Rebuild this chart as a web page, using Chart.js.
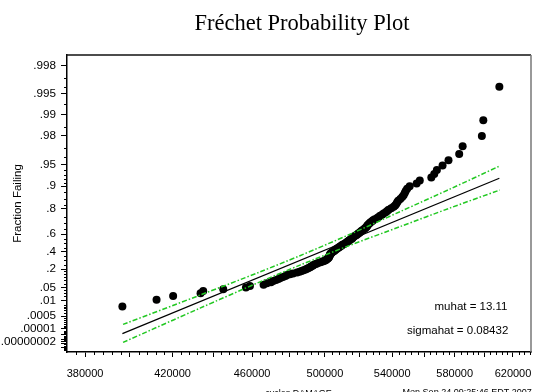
<!DOCTYPE html>
<html>
<head>
<meta charset="utf-8">
<title>Fréchet Probability Plot</title>
<script src="https://cdn.jsdelivr.net/npm/chart.js@4.4.1/dist/chart.umd.min.js"></script>
<style>
  html, body { margin: 0; padding: 0; background: #fff; }
  #wrap { width: 536px; height: 392px; }
</style>
</head>
<body>
<div id="wrap"><canvas id="plot" width="536" height="392"></canvas></div>
<script>
'use strict';

// fitted parameters on the log scale
const muhat = 13.11;
const sigmahat = 0.08432;

// ordered sample
const damage = [
  396600, 412400, 420300, 433700, 435000, 445100, 456800, 458900, 466100, 467900,
  470100, 471300, 472800, 474100, 475200, 476600, 477900, 478800, 480400, 482100,
  484300, 485700, 486800, 487900, 489000, 489900, 490700, 491600, 492100, 493000,
  493500, 494400, 495200, 496100, 497500, 498600, 499500, 500400, 500900, 501500,
  501800, 502100, 502400, 502500, 502700, 502900, 503000, 503200, 503800, 504100,
  504700, 505300, 505800, 506100, 506700, 507300, 507900, 508400, 509000, 509600,
  510200, 510800, 511700, 512300, 512800, 513400, 514000, 514600, 515200, 515800,
  516100, 516700, 517300, 518200, 518700, 519300, 519900, 520500, 521100, 521700,
  522600, 523200, 523800, 524400, 524700, 525000, 525600, 526200, 526800, 527700,
  528300, 529300, 530800, 531700, 532600, 533800, 534700, 536000, 536900, 537800,
  539400, 540900, 541800, 542500, 543100, 543700, 545000, 546200, 547100, 547800,
  548400, 549300, 550900, 555300, 557300, 564700, 566600, 568300, 572000, 575900,
  583000, 585300, 598300, 599300, 610400,
];

const fractionFailing = [
  0.004, 0.012, 0.020, 0.028, 0.036, 0.044, 0.052, 0.060, 0.068, 0.076,
  0.084, 0.092, 0.100, 0.108, 0.116, 0.124, 0.132, 0.140, 0.148, 0.156,
  0.164, 0.172, 0.180, 0.188, 0.196, 0.204, 0.212, 0.220, 0.228, 0.236,
  0.244, 0.252, 0.260, 0.268, 0.276, 0.284, 0.292, 0.300, 0.308, 0.316,
  0.324, 0.332, 0.340, 0.348, 0.356, 0.364, 0.372, 0.380, 0.388, 0.396,
  0.404, 0.412, 0.420, 0.428, 0.436, 0.444, 0.452, 0.460, 0.468, 0.476,
  0.484, 0.492, 0.500, 0.508, 0.516, 0.524, 0.532, 0.540, 0.548, 0.556,
  0.564, 0.572, 0.580, 0.588, 0.596, 0.604, 0.612, 0.620, 0.628, 0.636,
  0.644, 0.652, 0.660, 0.668, 0.676, 0.684, 0.692, 0.700, 0.708, 0.716,
  0.724, 0.732, 0.740, 0.748, 0.756, 0.764, 0.772, 0.780, 0.788, 0.796,
  0.804, 0.812, 0.820, 0.828, 0.836, 0.844, 0.852, 0.860, 0.868, 0.876,
  0.884, 0.892, 0.900, 0.908, 0.916, 0.924, 0.932, 0.940, 0.948, 0.956,
  0.964, 0.972, 0.980, 0.988, 0.996,
];

// confidence bounds
const bandDamage = [396900, 433400, 464200, 485900, 514600, 545000, 577100, 610600];
const bandUpper = [4.83e-5, 0.02238, 0.1706, 0.3542, 0.5993, 0.7844, 0.8911, 0.9471];
const bandLower = [1.57e-8, 0.002941, 0.08587, 0.2429, 0.4794, 0.6717, 0.8062, 0.8871];

// axes
const xRange = [372250, 632900];
const xTicks = [380000, 400000, 420000, 440000, 460000, 480000, 500000, 520000, 540000, 560000, 580000, 600000, 620000];
const xTickLabels = ['380000', '', '420000', '', '460000', '', '500000', '', '540000', '', '580000', '', '620000'];
const yRange = [-3.205, 6.565];
const yTicks = [0.998, 0.995, 0.99, 0.98, 0.95, 0.9, 0.8, 0.6, 0.4, 0.2, 0.05, 0.01, 0.0005, 0.00001, 0.00000002];
const yTickLabels = ['.998', '.995', '.99', '.98', '.95', '.9', '.8', '.6', '.4', '.2', '.05', '.01', '.0005', '.00001', '.00000002'];
const yMinorTicks = [
  0.997, 0.996, 0.993, 0.985, 0.97, 0.96, 0.94, 0.93, 0.92, 0.91, 0.88, 0.85, 0.82,
  0.75, 0.7, 0.65, 0.55, 0.5, 0.45, 0.35, 0.3, 0.25, 0.175, 0.15, 0.125, 0.1, 0.075,
  0.04, 0.03, 0.02, 0.005, 0.004, 0.003, 0.002, 0.001, 0.0003, 0.0002, 0.0001,
  0.00005, 0.00003, 0.00002, 0.000005, 0.000003, 0.000002, 0.000001, 5e-7, 3e-7,
  2e-7, 1e-7, 5e-8, 1e-8, 5e-9, 2e-9, 1e-9, 5e-10, 2e-10, 1e-10,
];
const yLongMinorTicks = [0.000001, 1e-7, 1e-8, 1e-9];

const SANS = '"Liberation Sans", Arial, sans-serif';
const GREEN = '#22c822';

// largest extreme value probability paper
function toZ(p) {
  return -Math.log(-Math.log(p));
}

function fitZ(v) {
  return (Math.log(v) - muhat) / sigmahat;
}

const points = damage.map((v, i) => ({ x: v, y: toZ(fractionFailing[i]) }));
const fitEnds = [Math.min(...damage), Math.max(...damage)].map(v => ({ x: v, y: fitZ(v) }));
const upper = bandDamage.map((v, i) => ({ x: v, y: toZ(bandUpper[i]) }));
const lower = bandDamage.map((v, i) => ({ x: v, y: toZ(bandLower[i]) }));

const plotDecor = {
  id: 'plotDecor',
  afterDraw(chart) {
    const { ctx, chartArea: a, scales: { x, y } } = chart;
    ctx.save();

    ctx.lineWidth = 1.5;
    ctx.strokeStyle = '#111';
    ctx.beginPath();
    ctx.moveTo(a.left - 0.75, a.top);
    ctx.lineTo(a.right, a.top);
    ctx.stroke();
    ctx.strokeStyle = '#777';
    ctx.beginPath();
    ctx.moveTo(a.right, a.top);
    ctx.lineTo(a.right, a.bottom);
    ctx.stroke();

    ctx.lineWidth = 1;
    ctx.strokeStyle = '#000';
    ctx.beginPath();
    yMinorTicks.forEach(p => {
      const py = Math.round(y.getPixelForValue(toZ(p))) + 0.5;
      ctx.moveTo(a.left - 3, py);
      ctx.lineTo(a.left, py);
    });
    yLongMinorTicks.forEach(p => {
      const py = Math.round(y.getPixelForValue(toZ(p))) + 0.5;
      ctx.moveTo(a.left - 6, py);
      ctx.lineTo(a.left, py);
    });
    for (let v = 372000; v <= 632000; v += 4000) {
      if (v % 20000 === 0) continue;
      const px = Math.round(x.getPixelForValue(v)) + 0.5;
      if (px < a.left || px > a.right) continue;
      ctx.moveTo(px, a.bottom);
      ctx.lineTo(px, a.bottom + 3);
    }
    ctx.stroke();

    ctx.fillStyle = '#000';
    ctx.textBaseline = 'alphabetic';
    ctx.textAlign = 'center';
    ctx.font = '22.5px "Liberation Serif", "Times New Roman", serif';
    ctx.fillText('Fréchet Probability Plot', 302, 30);

    ctx.textAlign = 'right';
    ctx.textBaseline = 'middle';
    ctx.font = `11.5px ${SANS}`;
    ctx.fillText('muhat = 13.11', 507.5, 306.7);
    ctx.fillText('sigmahat = 0.08432', 508.3, 331);

    ctx.textBaseline = 'alphabetic';
    ctx.font = `9px ${SANS}`;
    ctx.fillText('Mon Sep 24 09:25:46 EDT 2007', 531.7, 395.2);
    ctx.textAlign = 'center';
    ctx.fillText('cycles DAMAGE', 298.5, 396);
    ctx.restore();
  },
};

new Chart(document.getElementById('plot'), {
  type: 'scatter',
  data: {
    datasets: [
      {
        data: upper, showLine: true, borderColor: GREEN, borderWidth: 1.5,
        borderDash: [5, 2, 1.5, 2], pointRadius: 0, tension: 0.3, fill: false,
      },
      {
        data: lower, showLine: true, borderColor: GREEN, borderWidth: 1.5,
        borderDash: [5, 2, 1.5, 2], pointRadius: 0, tension: 0.3, fill: false,
      },
      {
        data: fitEnds, showLine: true, borderColor: '#000', borderWidth: 1.2,
        pointRadius: 0, fill: false,
      },
      {
        data: points, pointRadius: 4, pointBackgroundColor: '#000',
        pointBorderWidth: 0, pointHoverRadius: 4,
      },
    ],
  },
  options: {
    responsive: false,
    animation: false,
    events: [],
    layout: { padding: { top: 55, right: 5, bottom: 0, left: 0 } },
    plugins: { legend: { display: false }, tooltip: { enabled: false } },
    scales: {
      x: {
        type: 'logarithmic',
        position: 'bottom',
        min: xRange[0],
        max: xRange[1],
        afterBuildTicks: scale => { scale.ticks = xTicks.map(value => ({ value })); },
        afterFit: scale => {
          scale.height = 40;
          scale.paddingLeft = 0;
          scale.paddingRight = 0;
        },
        grid: { drawOnChartArea: false, drawTicks: true, tickLength: 5, tickColor: '#000', tickWidth: 1 },
        border: { display: true, color: '#000', width: 1.5 },
        ticks: {
          autoSkip: false, maxRotation: 0, padding: 10, color: '#000',
          font: { family: SANS, size: 11 },
          callback: (value, index) => xTickLabels[index],
        },
      },
      y: {
        type: 'linear',
        position: 'left',
        min: yRange[0],
        max: yRange[1],
        afterBuildTicks: scale => { scale.ticks = yTicks.map(p => ({ value: toZ(p) })); },
        afterFit: scale => {
          scale.width = 67;
          scale.paddingTop = 0;
          scale.paddingBottom = 0;
        },
        grid: { drawOnChartArea: false, drawTicks: true, tickLength: 6, tickColor: '#000', tickWidth: 1 },
        border: { display: true, color: '#000', width: 1.5 },
        title: {
          display: true, text: 'Fraction Failing', color: '#000',
          font: { family: SANS, size: 11.5 }, padding: { top: 11, bottom: 0 },
        },
        ticks: {
          autoSkip: false, padding: 5, color: '#000',
          font: { family: SANS, size: 11.7 },
          callback: (value, index) => yTickLabels[index],
        },
      },
    },
  },
  plugins: [plotDecor],
});
</script>
</body>
</html>
